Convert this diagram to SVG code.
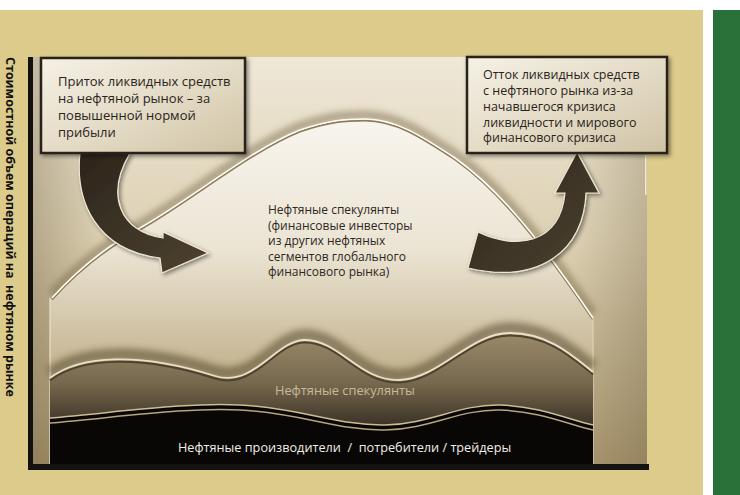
<svg xmlns="http://www.w3.org/2000/svg" width="740" height="495" viewBox="0 0 740 495">
<style>
.bx{font-family:"Open Sans","Noto Sans","Liberation Sans",sans-serif;font-size:13px;fill:#2a241c}
.bx2{font-family:"Open Sans","Noto Sans","Liberation Sans",sans-serif;font-size:12.5px;fill:#2a241c}
.ct{font-family:"Open Sans","Noto Sans","Liberation Sans",sans-serif;font-size:12px;fill:#2d271e}
.mt{font-family:"Open Sans","Noto Sans","Liberation Sans",sans-serif;font-size:12.8px;fill:#c9b998}
.bt{font-family:"Open Sans","Noto Sans","Liberation Sans",sans-serif;font-size:12.7px;fill:#f2eee6;white-space:pre}
.vt{font-family:"Open Sans","Noto Sans","Liberation Sans",sans-serif;font-size:12.5px;font-weight:bold;fill:#111;white-space:pre}
.boxr{fill:url(#boxg);stroke:#2b2418;stroke-width:2.5}
.arr{fill:url(#arrg);stroke:#efe7d2;stroke-width:1.2}
</style>
<defs>
<linearGradient id="bg" x1="0" y1="0" x2="0" y2="1">
<stop offset="0" stop-color="#efe8d8"/><stop offset="0.45" stop-color="#dcd0b2"/><stop offset="1" stop-color="#a8966f"/>
</linearGradient>
<linearGradient id="vign" x1="0" y1="0" x2="1" y2="0">
<stop offset="0" stop-color="#5a4a2a" stop-opacity="0.3"/><stop offset="0.12" stop-color="#5a4a2a" stop-opacity="0"/><stop offset="0.88" stop-color="#5a4a2a" stop-opacity="0"/><stop offset="1" stop-color="#5a4a2a" stop-opacity="0.25"/>
</linearGradient>
<linearGradient id="bellg" x1="0" y1="0" x2="0" y2="1">
<stop offset="0" stop-color="#f8f5ee"/><stop offset="0.5" stop-color="#ebe4d3"/><stop offset="1" stop-color="#bfae88"/>
</linearGradient>
<linearGradient id="midg" x1="0" y1="0" x2="0" y2="1">
<stop offset="0" stop-color="#9a8a6a"/><stop offset="0.55" stop-color="#76684d"/><stop offset="1" stop-color="#3c3327"/>
</linearGradient>
<linearGradient id="boxg" x1="0" y1="0" x2="1" y2="1">
<stop offset="0" stop-color="#f5f1e6"/><stop offset="0.55" stop-color="#e3dac4"/><stop offset="1" stop-color="#cfc3a5"/>
</linearGradient>
<linearGradient id="arrg" x1="0" y1="0" x2="1" y2="1">
<stop offset="0" stop-color="#2c251b"/><stop offset="1" stop-color="#4d4230"/>
</linearGradient>
<filter id="blur" x="-10%" y="-30%" width="120%" height="160%"><feGaussianBlur stdDeviation="3"/></filter>
<filter id="sh" x="-10%" y="-10%" width="125%" height="130%"><feDropShadow dx="2" dy="2" stdDeviation="2" flood-color="#000" flood-opacity="0.45"/></filter>
<path id="bellc" d="M52,298 C70,278 100,250 140,228 C190,200 250,150 300,130 C330,120 345,119 365,119 C395,119 420,135 455,158 C500,190 540,240 593,318"/>
<path id="wave1" d="M50,378 C80,355 140,352 215,376 C255,388 275,340 305,340 C340,340 360,382 400,380 C440,378 470,333 510,333 C550,333 575,358 593,372"/>
<path id="wave2" d="M50,418 C120,412 190,402 240,405 C300,408 340,426 385,425 C430,424 460,404 500,405 C540,406 570,420 593,425"/>
</defs>
<rect x="0" y="0" width="740" height="495" fill="#ffffff"/>
<rect x="0" y="10" width="703" height="485" fill="#dccb8b"/>
<rect x="713" y="10" width="27" height="485" fill="#2a7139"/>
<g id="picture">
<rect x="32" y="57" width="615" height="410" fill="url(#bg)"/>
<rect x="32" y="57" width="615" height="410" fill="url(#vign)"/>
<use href="#bellc" fill="none" stroke="#6b5a3a" stroke-opacity="0.45" stroke-width="9" filter="url(#blur)" transform="translate(0,-4)"/>
<path d="M50,300 L52,298 C70,278 100,250 140,228 C190,200 250,150 300,130 C330,120 345,119 365,119 C395,119 420,135 455,158 C500,190 540,240 593,318 L593,382 L50,382 Z" fill="url(#bellg)"/>
<use href="#bellc" fill="none" stroke="#8c7a58" stroke-width="2" transform="translate(0,1.5)"/>
<use href="#bellc" fill="none" stroke="#fffdf6" stroke-width="1.6"/>
<line x1="50" y1="298" x2="50" y2="466" stroke="#ece2c8" stroke-width="1.2"/>
<line x1="593" y1="318" x2="593" y2="466" stroke="#e0d4b6" stroke-width="1.2"/>
<rect x="645" y="155" width="1.5" height="40" fill="#f0e8d2"/>
</g>
<g id="layer-speculators-top">
<use href="#wave1" fill="none" stroke="#4a3c24" stroke-opacity="0.5" stroke-width="12" filter="url(#blur)" transform="translate(0,-5)"/>
<path d="M50,378 C80,355 140,352 215,376 C255,388 275,340 305,340 C340,340 360,382 400,380 C440,378 470,333 510,333 C550,333 575,358 593,372 L593,425 C570,420 540,406 500,405 C460,404 430,424 385,425 C340,426 300,408 240,405 C190,402 120,412 50,418 Z" fill="url(#midg)"/>
<use href="#wave1" fill="none" stroke="#4f4330" stroke-width="2" transform="translate(0,2.5)"/>
<use href="#wave1" fill="none" stroke="#ebe1c8" stroke-width="1.8"/>
<text class="mt" x="275" y="395">Нефтяные спекулянты</text>
</g>
<g id="layer-producers">
<path d="M50,418 C120,412 190,402 240,405 C300,408 340,426 385,425 C430,424 460,404 500,405 C540,406 570,420 593,425 L593,466 L50,466 Z" fill="#090706"/>
<use href="#wave2" fill="none" stroke="#cdbb94" stroke-width="1.5"/>
<use href="#wave2" fill="none" stroke="#b5a47e" stroke-width="1.5" transform="translate(0,5)"/>
<rect x="28" y="464" width="621" height="6" fill="#141210"/>
<rect x="28" y="57" width="5" height="413" fill="#141210"/>
<text class="bt" x="178" y="452">Нефтяные производители  /  потребители / трейдеры</text>
</g>
<g id="center-label">
<text class="ct" x="268" y="214">Нефтяные спекулянты</text>
<text class="ct" x="268" y="229.5">(финансовые инвесторы</text>
<text class="ct" x="268" y="245">из других нефтяных</text>
<text class="ct" x="268" y="260.5">сегментов глобального</text>
<text class="ct" x="268" y="276">финансового рынка)</text>
</g>
<g id="connectors">
<path class="arr" filter="url(#sh)" d="M80,153 C75,200 95,250 160,258 L162,273 L208,253 L163,232 L163,238 C120,232 105,195 130,153 Z"/>
<path class="arr" filter="url(#sh)" d="M478,232 C515,250 560,245 565,193 L555,193 L577,152 L599,193 L586,193 C584,250 540,285 468,268 Z"/>
</g>
<g id="box-inflow">
<rect class="boxr" filter="url(#sh)" x="41" y="58" width="204" height="95"/>
<text class="bx" x="58" y="86">Приток ликвидных средств</text>
<text class="bx" x="58" y="103">на нефтяной рынок – за</text>
<text class="bx" x="58" y="120">повышенной нормой</text>
<text class="bx" x="58" y="137">прибыли</text>
</g>
<g id="box-outflow">
<rect class="boxr" filter="url(#sh)" x="467" y="57" width="200" height="96"/>
<text class="bx2" x="483" y="79">Отток ликвидных средств</text>
<text class="bx2" x="483" y="95">с нефтяного рынка из-за</text>
<text class="bx2" x="483" y="111">начавшегося кризиса</text>
<text class="bx2" x="483" y="126.5">ликвидности и мирового</text>
<text class="bx2" x="483" y="142">финансового кризиса</text>
</g>
<g id="axis-label">
<text class="vt" transform="translate(6,57) rotate(90)">Стоимостной объем операций на  нефтяном рынке</text>
</g>
</svg>
